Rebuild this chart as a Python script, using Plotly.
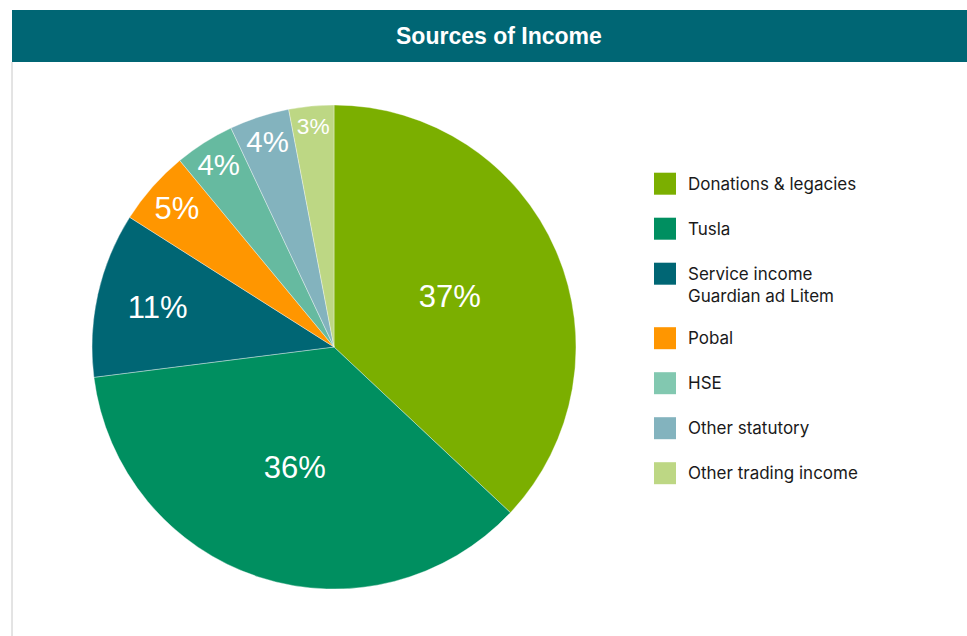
import plotly.graph_objects as go

categories = ["Donations & legacies", "Tusla", "Service income<br>Guardian ad Litem",
              "Pobal", "HSE", "Other statutory", "Other trading income"]
values = [37, 36, 11, 5, 4, 4, 3]
colors = ["#7BAF00", "#008F60", "#006674", "#FF9600", "#66BAA0", "#83B3BE", "#BDD784"]
legend_colors = ["#7BAF00", "#008F60", "#006674", "#FF9600", "#82C8B0", "#83B3BE", "#BDD784"]
title_text = "Sources of Income"

W, H = 967, 636
cx, cy, R = 334, 347, 242

def px(x):
    return x / W

def py(y):
    return 1 - y / H

fig = go.Figure()
fig.add_trace(go.Pie(
    labels=categories,
    values=values,
    sort=False,
    direction="clockwise",
    rotation=0,
    marker=dict(colors=colors, line=dict(color="rgba(255,255,255,0.6)", width=0.6)),
    texttemplate="%{percent:.0%}",
    textposition="inside",
    insidetextorientation="horizontal",
    textfont=dict(family="Liberation Sans, Arial, sans-serif", size=31, color="white"),
    showlegend=False,
    hoverinfo="label+percent",
    domain=dict(x=[px(cx - R), px(cx + R)], y=[py(cy + R), py(cy - R)]),
))

shapes = [
    dict(type="rect", xref="paper", yref="paper", x0=px(12), x1=1.0, y0=py(62), y1=py(10),
         fillcolor="#006674", line=dict(width=0), layer="below"),
    dict(type="line", xref="paper", yref="paper", x0=px(12), x1=px(12), y0=0, y1=py(62),
         line=dict(color="#C8C8C8", width=1)),
]
annotations = [
    dict(text="<b>" + title_text + "</b>", xref="paper", yref="paper", x=px(499), y=py(36),
         xanchor="center", yanchor="middle", showarrow=False,
         font=dict(family="Liberation Sans, Arial, sans-serif", size=23, color="white")),
]

top = 172.7
for name, col in zip(categories, legend_colors):
    nlines = name.count("<br>") + 1
    shapes.append(dict(type="rect", xref="paper", yref="paper",
                       x0=px(654), x1=px(676), y0=py(top + 22), y1=py(top),
                       fillcolor=col, line=dict(width=0)))
    annotations.append(dict(text=name, xref="paper", yref="paper", x=px(686), y=py(top - 1),
                            xanchor="left", yanchor="top", align="left", showarrow=False,
                            font=dict(family="Inter, Noto Sans, sans-serif", size=17, color="#1a1a1a")))
    top += 45 + 19.5 * (nlines - 1)

fig.update_layout(
    width=W, height=H,
    margin=dict(l=0, r=0, t=0, b=0),
    paper_bgcolor="white",
    plot_bgcolor="white",
    shapes=shapes,
    annotations=annotations,
)

fig.write_html("out.html", config={"displayModeBar": False},
               post_script="document.body.style.margin='0px';")
